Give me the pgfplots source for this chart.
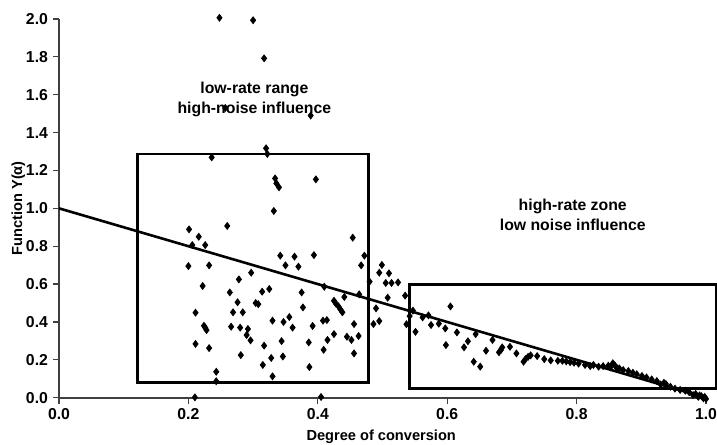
\documentclass[border=0pt]{standalone}
\usepackage{fontspec}
\setmainfont{Liberation Sans}
\usepackage{pgfplots}
\pgfplotsset{compat=1.18}
\begin{document}
\begin{tikzpicture}
\begin{axis}[
  scale only axis, width=323.5pt, height=189.4pt,
  xmin=0, xmax=1, ymin=0, ymax=2,
  axis lines*=left,
  axis line style={black!75, line width=0.8pt},
  clip=false,
  xtick={0,0.2,...,1.0}, ytick={0,0.2,...,2.0},
  tick align=outside, major tick length=3pt,
  tick style={black!75, line width=0.6pt},
  xticklabel={\textbf{\pgfmathprintnumber[assume math mode=true,fixed,fixed zerofill,precision=1]{\tick}}},
  yticklabel={\textbf{\pgfmathprintnumber[assume math mode=true,fixed,fixed zerofill,precision=1]{\tick}}},
  ticklabel style={font=\bfseries\fontsize{7.9}{9}\selectfont, black},
  yticklabel style={xshift=1pt},
  xticklabel style={yshift=1pt},
  xlabel={Degree of conversion},
  ylabel={Function Y(α)},
  every axis x label/.style={at={(axis cs:0.498,-0.208)}, anchor=center, font=\bfseries\fontsize{7.3}{9}\selectfont},
  every axis y label/.style={at={(axis cs:-0.063,1.0)}, rotate=90, anchor=center, font=\bfseries\fontsize{7.3}{9}\selectfont},
]
\addplot[black, line width=1.3pt] coordinates {(0,1.0) (1.0,0.0)};
\draw[black, line width=1.4pt] (axis cs:0.1216,0.081) rectangle (axis cs:0.478,1.287);
\draw[black, line width=1.4pt] (axis cs:0.542,0.048) rectangle (axis cs:1.016,0.597);
\addplot[only marks, mark=diamond*, mark size=1.7pt, black] table {
x y
0.248 2.006
0.300 1.993
0.317 1.792
0.257 1.530
0.389 1.490
0.236 1.269
0.320 1.317
0.322 1.287
0.334 1.158
0.336 1.132
0.340 1.111
0.397 1.153
0.332 0.986
0.201 0.889
0.260 0.907
0.216 0.850
0.206 0.806
0.226 0.806
0.200 0.695
0.232 0.699
0.342 0.750
0.364 0.745
0.394 0.753
0.350 0.699
0.370 0.692
0.454 0.845
0.472 0.750
0.467 0.699
0.499 0.701
0.297 0.660
0.278 0.625
0.222 0.590
0.264 0.556
0.314 0.560
0.325 0.574
0.375 0.556
0.276 0.504
0.304 0.500
0.308 0.494
0.377 0.477
0.211 0.449
0.269 0.451
0.284 0.451
0.330 0.407
0.347 0.400
0.356 0.426
0.361 0.370
0.392 0.379
0.408 0.407
0.414 0.410
0.224 0.380
0.226 0.370
0.228 0.357
0.266 0.375
0.280 0.370
0.292 0.363
0.290 0.331
0.296 0.303
0.211 0.284
0.232 0.262
0.317 0.275
0.344 0.299
0.386 0.292
0.409 0.253
0.415 0.305
0.281 0.225
0.328 0.210
0.346 0.218
0.315 0.173
0.387 0.162
0.243 0.137
0.330 0.113
0.243 0.087
0.210 0.002
0.405 0.004
0.495 0.660
0.510 0.657
0.480 0.613
0.505 0.606
0.514 0.606
0.524 0.609
0.410 0.586
0.464 0.546
0.441 0.532
0.508 0.528
0.535 0.539
0.425 0.512
0.428 0.497
0.432 0.482
0.435 0.466
0.438 0.451
0.490 0.472
0.547 0.460
0.605 0.482
0.456 0.389
0.486 0.389
0.495 0.405
0.542 0.431
0.537 0.388
0.562 0.424
0.571 0.435
0.575 0.384
0.587 0.391
0.597 0.366
0.615 0.345
0.644 0.336
0.551 0.348
0.598 0.278
0.626 0.266
0.632 0.298
0.641 0.190
0.651 0.164
0.425 0.336
0.445 0.322
0.452 0.305
0.463 0.326
0.456 0.234
0.660 0.248
0.670 0.305
0.680 0.240
0.683 0.252
0.685 0.266
0.697 0.269
0.707 0.234
0.718 0.190
0.721 0.204
0.725 0.216
0.729 0.224
0.739 0.220
0.750 0.204
0.760 0.197
0.771 0.195
0.778 0.195
0.784 0.192
0.790 0.188
0.796 0.185
0.803 0.180
0.813 0.173
0.821 0.167
0.826 0.173
0.834 0.164
0.841 0.167
0.849 0.169
0.856 0.182
0.859 0.171
0.852 0.160
0.862 0.158
0.866 0.155
0.872 0.146
0.880 0.141
0.887 0.132
0.893 0.124
0.901 0.115
0.908 0.107
0.916 0.097
0.924 0.088
0.930 0.070
0.935 0.079
0.938 0.072
0.945 0.058
0.952 0.048
0.960 0.041
0.968 0.037
0.974 0.029
0.980 0.014
0.984 0.020
0.988 0.005
0.990 0.012
0.993 0.008
0.996 -0.003
0.998 0.004
1.000 -0.006
};
\node[font=\bfseries\fontsize{7.9}{10}\selectfont, align=center] at (axis cs:0.302,1.577) {low-rate range\\high-noise influence};
\node[font=\bfseries\fontsize{7.9}{10}\selectfont, align=center] at (axis cs:0.794,0.964) {high-rate zone\\low noise influence};
\coordinate (bbsw) at (axis cs:-0.0912,-0.2445);
\coordinate (bbne) at (axis cs:1.017,2.100);
\end{axis}
\pgfresetboundingbox
\path[use as bounding box] (bbsw) rectangle (bbne);
\end{tikzpicture}
\end{document}
